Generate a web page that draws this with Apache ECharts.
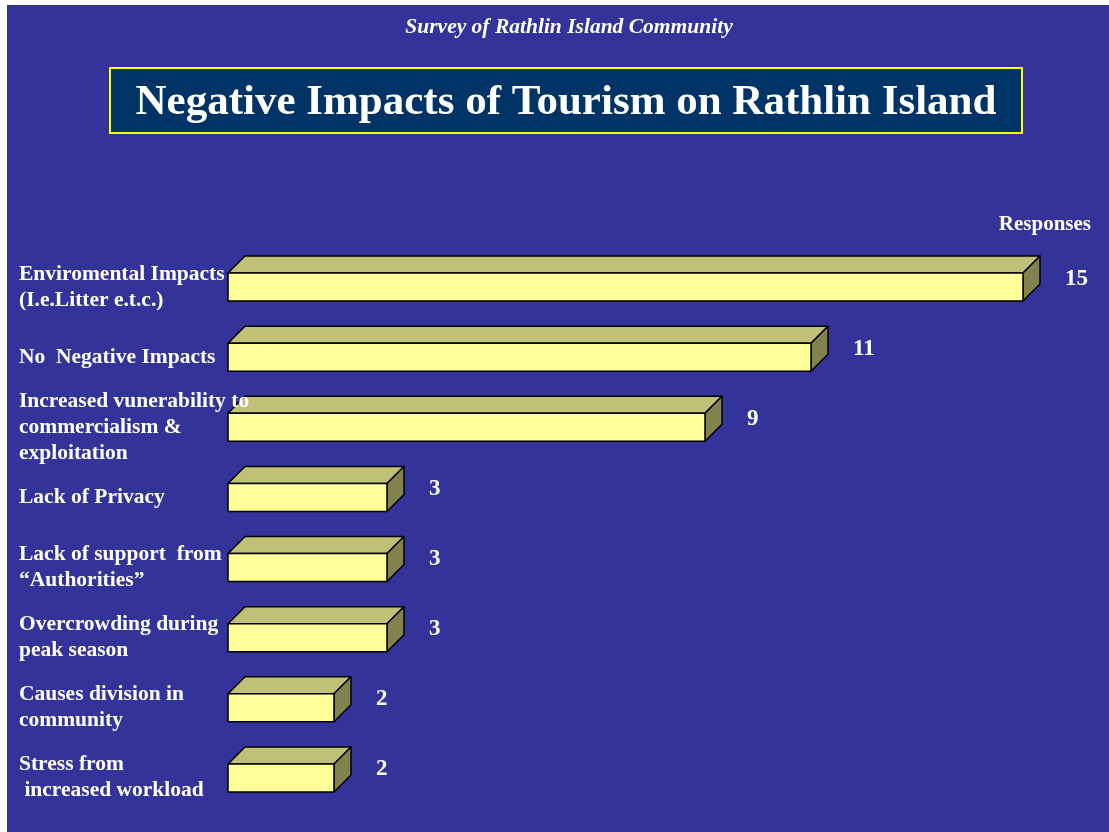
<!DOCTYPE html>
<html>
<head>
<meta charset="utf-8">
<title>Negative Impacts of Tourism on Rathlin Island</title>
<script src="https://cdn.jsdelivr.net/npm/echarts@6/dist/echarts.min.js"></script>
<style>
  html, body { margin: 0; padding: 0; background: #ffffff; }
  #main { position: absolute; left: 0; top: 0; width: 1109px; height: 832px; }
</style>
</head>
<body>
<div id="main"></div>
<script>
// Survey answers: negative impacts of tourism, with number of responses
const categories = [
  'Enviromental Impacts\n(I.e.Litter e.t.c.)',
  'No  Negative Impacts',
  'Increased vunerability to\ncommercialism &\nexploitation',
  'Lack of Privacy',
  'Lack of support  from\n\u201cAuthorities\u201d',
  'Overcrowding during\npeak season',
  'Causes division in\ncommunity',
  'Stress from\n increased workload'
];
const responses = [15, 11, 9, 3, 3, 3, 2, 2];

const subtitleText = 'Survey of Rathlin Island Community';
const titleText = 'Negative Impacts of Tourism on Rathlin Island';
const axisName = 'Responses';

const SERIF = '"Liberation Serif", "Times New Roman", serif';
const FRONT = '#ffff99';
const TOP = '#c0c077';
const SIDE = '#82824f';
const DEPTH = 17;     // oblique depth of the 3D boxes
const FACE_H = 28;    // height of the front face

const chart = echarts.init(document.getElementById('main'), null, { renderer: 'canvas' });

// draws one 3D box: front face, top face, right side and the value label
function renderBox(params, api) {
  const v = api.value(0);
  const cat = api.value(1);
  const p0 = api.coord([0, cat]);
  const p1 = api.coord([v, cat]);
  const x0 = p0[0], x1 = p1[0];
  const yt = p0[1] - FACE_H / 2;
  const yb = p0[1] + FACE_H / 2;
  const d = DEPTH;
  const line = { stroke: '#000000', lineWidth: 1.5, lineJoin: 'round' };
  return {
    type: 'group',
    children: [
      {
        type: 'polygon',
        shape: { points: [[x0, yt], [x0 + d, yt - d], [x1 + d, yt - d], [x1, yt]] },
        style: Object.assign({ fill: TOP }, line)
      },
      {
        type: 'polygon',
        shape: { points: [[x1, yt], [x1 + d, yt - d], [x1 + d, yb - d], [x1, yb]] },
        style: Object.assign({ fill: SIDE }, line)
      },
      {
        type: 'rect',
        shape: { x: x0, y: yt, width: x1 - x0, height: FACE_H },
        style: Object.assign({ fill: FRONT }, line)
      },
      {
        type: 'text',
        style: {
          text: String(v),
          x: x1 + d + 25,
          y: p0[1] - d / 2,
          fill: '#ffffff',
          font: 'bold 23px ' + SERIF,
          align: 'left',
          verticalAlign: 'middle'
        }
      }
    ]
  };
}

const option = {
  backgroundColor: '#ffffff',
  animation: false,
  graphic: [
    {
      type: 'rect', z: -10, silent: true,
      shape: { x: 7, y: 5, width: 1102, height: 827 },
      style: { fill: '#333399' }
    },
    {
      type: 'text',
      style: {
        text: subtitleText,
        x: 569, y: 27,
        fill: '#ffffff',
        font: 'italic bold 21.5px ' + SERIF,
        align: 'center', verticalAlign: 'middle'
      }
    },
    {
      type: 'rect',
      shape: { x: 110, y: 68, width: 912, height: 65 },
      style: { fill: '#003366', stroke: '#ffff00', lineWidth: 2 }
    },
    {
      type: 'text',
      style: {
        text: titleText,
        x: 566, y: 103,
        fill: '#ffffff',
        font: 'bold 43px ' + SERIF,
        align: 'center', verticalAlign: 'middle'
      }
    },
    {
      type: 'text',
      style: {
        text: axisName,
        x: 1091, y: 225,
        fill: '#ffffff',
        font: 'bold 21px ' + SERIF,
        align: 'right', verticalAlign: 'middle'
      }
    }
  ],
  grid: { left: 228, right: 86, top: 252, height: 561, containLabel: false },
  xAxis: {
    type: 'value', min: 0, max: 15, show: false
  },
  yAxis: {
    type: 'category',
    data: categories,
    inverse: true,
    z: 10,
    axisLine: { show: false },
    axisTick: { show: false },
    splitLine: { show: false },
    axisLabel: {
      align: 'left',
      margin: 209,
      color: '#ffffff',
      fontFamily: SERIF,
      fontWeight: 'bold',
      fontSize: 21.5,
      lineHeight: 26,
      padding: [0, 0, 10, 0]
    }
  },
  series: [{
    type: 'custom',
    renderItem: renderBox,
    encode: { x: 0, y: 1 },
    data: responses.map((v, i) => [v, i])
  }]
};

chart.setOption(option);
</script>
</body>
</html>
